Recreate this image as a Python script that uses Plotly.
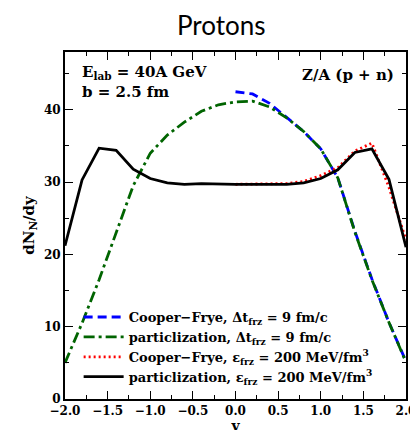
import plotly.graph_objects as go

# Rapidity grid
y_full = [-2.0, -1.8, -1.6, -1.4, -1.2, -1.0, -0.8, -0.6, -0.4, -0.2, 0.0,
          0.2, 0.4, 0.6, 0.8, 1.0, 1.2, 1.4, 1.6, 1.8, 2.0]
y_half = [0.0, 0.2, 0.4, 0.6, 0.8, 1.0, 1.2, 1.4, 1.6, 1.8, 2.0]

# Cooper-Frye, dt_frz = 9 fm/c (blue dashed)
cf_dt = [42.5, 42.2, 40.9, 38.9, 37.0, 34.6, 30.6, 23.2, 16.6, 10.6, 5.2]
# particlization, dt_frz = 9 fm/c (green dash-dot)
part_dt = [5.0, 10.5, 16.5, 23.0, 29.5, 34.0, 36.5, 38.3, 39.8, 40.7, 41.1,
           41.2, 40.4, 38.9, 37.0, 34.6, 30.6, 23.1, 16.5, 10.6, 5.1]
# Cooper-Frye, eps_frz = 200 MeV/fm^3 (red dotted)
cf_eps = [29.7, 29.7, 29.7, 29.8, 30.1, 30.9, 32.0, 34.3, 35.4, 29.3, 22.0]
# particlization, eps_frz = 200 MeV/fm^3 (black solid)
part_eps = [21.2, 30.3, 34.7, 34.4, 31.8, 30.5, 29.9, 29.7, 29.8, 29.7, 29.7,
            29.7, 29.7, 29.7, 29.9, 30.5, 31.7, 34.1, 34.6, 30.4, 21.0]

x_ticks = [-2.0, -1.5, -1.0, -0.5, 0.0, 0.5, 1.0, 1.5, 2.0]
x_tick_labels = ["\u22122.0", "\u22121.5", "\u22121.0", "\u22120.5", "0.0", "0.5", "1.0", "1.5", "2.0"]
y_ticks = [0, 10, 20, 30, 40]

serif = "DejaVu Serif"

fig = go.Figure()
fig.add_trace(go.Scatter(x=y_half, y=cf_dt, mode="lines",
                         line=dict(color="#0000ff", width=2.8, dash="9px,5px"),
                         name="<b>Cooper\u2212Frye, \u0394t<sub>frz</sub> = 9 fm/c</b>"))
fig.add_trace(go.Scatter(x=y_full, y=part_dt, mode="lines",
                         line=dict(color="#006400", width=2.8, dash="11px,4px,3px,4px"),
                         name="<b>particlization, \u0394t<sub>frz</sub> = 9 fm/c</b>"))
fig.add_trace(go.Scatter(x=y_half, y=cf_eps, mode="lines",
                         line=dict(color="#ff0000", width=2.8, dash="2px,3px"),
                         name="<b>Cooper\u2212Frye, \u03b5<sub>frz</sub> = 200 MeV/fm<sup>3</sup></b>"))
fig.add_trace(go.Scatter(x=y_full, y=part_eps, mode="lines",
                         line=dict(color="#000000", width=2.8),
                         name="<b>particlization, \u03b5<sub>frz</sub> = 200 MeV/fm<sup>3</sup></b>"))

axis_common = dict(showline=True, linecolor="black", linewidth=2, mirror="ticks",
                   ticks="inside", tickcolor="black", tickwidth=1.2, ticklen=8,
                   showgrid=False, zeroline=False,
                   tickfont=dict(family=serif, size=12, color="black", weight="bold"))

fig.update_xaxes(range=[-2.0, 2.0], tickvals=x_ticks, ticktext=["<b>%s</b>" % t for t in x_tick_labels],
                 minor=dict(dtick=0.25, ticks="inside", ticklen=4, tickcolor="black", tickwidth=1.2),
                 title=dict(text="<b>y</b>", font=dict(family=serif, size=14, color="black"),
                            standoff=0),
                 **axis_common)
fig.update_yaxes(range=[0, 48], tickvals=y_ticks, ticktext=["<b>%d</b>" % t for t in y_ticks],
                 minor=dict(dtick=5, ticks="inside", ticklen=4, tickcolor="black", tickwidth=1.2),
                 title=dict(text="<b>dN<sub>N</sub>/dy</b>", font=dict(family=serif, size=15, color="black"),
                            standoff=6),
                 **axis_common)

fig.update_layout(
    width=418, height=430,
    margin=dict(l=57, r=10, t=44, b=36),
    paper_bgcolor="white", plot_bgcolor="white",
    title=dict(text="Protons", x=0.51, xanchor="center", y=0.958, yanchor="middle",
               font=dict(family="Lato", size=26, color="black")),
    showlegend=True,
    legend=dict(x=0.04, y=0.02, xanchor="left", yanchor="bottom",
                bgcolor="rgba(0,0,0,0)", borderwidth=0, tracegroupgap=0,
                itemwidth=40,
                font=dict(family=serif, size=13, color="black")),
    annotations=[
        dict(text="<b>E<sub>lab</sub> = 40A GeV</b>", xref="paper", yref="paper", x=0.045, y=0.975,
             xanchor="left", yanchor="top", showarrow=False,
             font=dict(family=serif, size=15, color="black")),
        dict(text="<b>b = 2.5 fm</b>", xref="paper", yref="paper", x=0.045, y=0.915,
             xanchor="left", yanchor="top", showarrow=False,
             font=dict(family=serif, size=15, color="black")),
        dict(text="<b>Z/A (p + n)</b>", xref="paper", yref="paper", x=0.97, y=0.965,
             xanchor="right", yanchor="top", showarrow=False,
             font=dict(family=serif, size=15, color="black")),
    ],
)

fig.write_html("out.html")
